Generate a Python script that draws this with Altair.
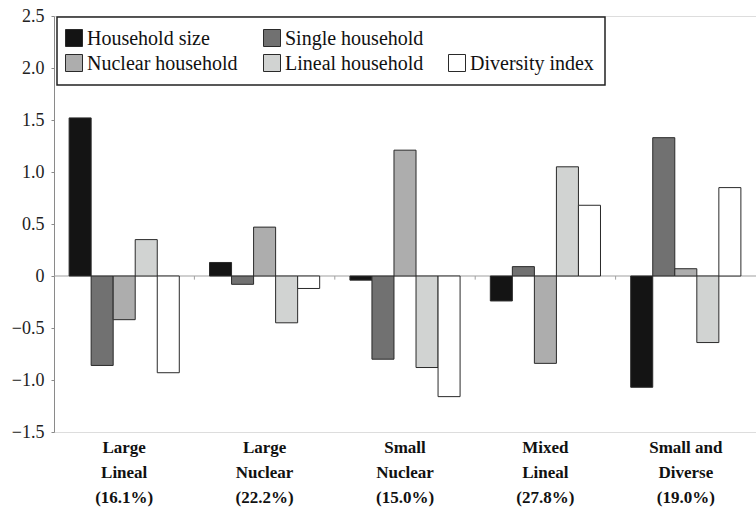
import altair as alt
import pandas as pd

categories = ["Large\nLineal\n(16.1%)", "Large\nNuclear\n(22.2%)", "Small\nNuclear\n(15.0%)",
              "Mixed\nLineal\n(27.8%)", "Small and\nDiverse\n(19.0%)"]
series = ["Household size", "Single household", "Nuclear household", "Lineal household", "Diversity index"]
household_size = [1.52, 0.13, -0.04, -0.24, -1.07]
single_household = [-0.86, -0.08, -0.80, 0.09, 1.33]
nuclear_household = [-0.42, 0.47, 1.21, -0.84, 0.07]
lineal_household = [0.35, -0.45, -0.88, 1.05, -0.64]
diversity_index = [-0.93, -0.12, -1.16, 0.68, 0.85]
y_ticks = [-1.5, -1.0, -0.5, 0, 0.5, 1.0, 1.5, 2.0, 2.5]

colors = ["#141414", "#717171", "#adadad", "#d1d3d2", "#ffffff"]
FONT = "Liberation Serif"

rows = []
for s, vals in zip(series, [household_size, single_household, nuclear_household,
                            lineal_household, diversity_index]):
    for c, v in zip(categories, vals):
        rows.append({"cluster": c, "series": s, "value": v})
df = pd.DataFrame(rows)

W, H = 702, 416

x_enc = alt.X("cluster:N", sort=categories,
              scale=alt.Scale(paddingInner=0, paddingOuter=0),
              axis=alt.Axis(title=None, labelAngle=0, domain=False, ticks=False,
                            labelExpr="split(datum.label, '\\n')",
                            labelFont=FONT, labelFontSize=17, labelFontWeight="bold",
                            labelAlign="center",
                            labelColor="#111", labelPadding=7, labelLineHeight=25,
                            labelBaseline="top"))
y_scale = alt.Scale(domain=[-1.5, 2.5], nice=False, zero=False)

bars = alt.Chart(df).mark_bar(stroke="#2a2a2a", strokeWidth=1).encode(
    x=x_enc,
    xOffset=alt.XOffset("series:N", sort=series,
                        scale=alt.Scale(paddingInner=0, paddingOuter=0.686)),
    y=alt.Y("value:Q", scale=y_scale,
            axis=alt.Axis(title=None, values=y_ticks, grid=False,
                          labelExpr="datum.value == 0 ? '0' : replace(format(datum.value, '.1f'), '-', '\u2212')",
                          labelFont=FONT, labelFontSize=18, labelColor="#222",
                          domainColor="#8a8a8a", tickColor="#8a8a8a", tickSize=3,
                          labelPadding=7)),
    color=alt.Color("series:N", sort=series,
                    scale=alt.Scale(domain=series, range=colors), legend=None),
)

zero_line = alt.Chart(pd.DataFrame({"v": [0]})).mark_rule(color="#a0a0a0", strokeWidth=1.2).encode(
    y=alt.Y("v:Q", scale=y_scale)
)

boundary = pd.DataFrame({"cluster": categories[1:]})
zero_ticks = alt.Chart(boundary).mark_rule(color="#a0a0a0", strokeWidth=1).encode(
    x=alt.X("cluster:N", sort=categories, bandPosition=0),
    y=alt.datum(0),
    y2=alt.datum(-0.035),
)

# legend (manual, Excel-like layout)
legend_box = alt.Chart(pd.DataFrame({"a": [0]})).mark_rect(
    fill="white", stroke="#222", strokeWidth=1.5).encode(
    x=alt.value(3), x2=alt.value(551), y=alt.value(1), y2=alt.value(69))

leg_pos = [(20, 22), (218, 22), (20, 47), (218, 47), (403, 47)]
legend_layers = [legend_box]
for (lx, ly), s, col in zip(leg_pos, series, colors):
    legend_layers.append(
        alt.Chart(pd.DataFrame({"a": [0]})).mark_rect(fill=col, stroke="#2a2a2a", strokeWidth=1).encode(
            x=alt.value(lx - 8.5), x2=alt.value(lx + 8.5), y=alt.value(ly - 8.5), y2=alt.value(ly + 8.5)))
    legend_layers.append(
        alt.Chart(pd.DataFrame({"a": [0]})).mark_text(
            text=s, font=FONT, fontSize=20, color="#111", align="left", baseline="middle").encode(
            x=alt.value(lx + 13), y=alt.value(ly + 1)))

chart = alt.layer(zero_line, zero_ticks, bars, *legend_layers).properties(
    width=W, height=H,
    padding={"left": 54, "top": 16, "right": 0, "bottom": 75},
    autosize="none",
    background="white",
).configure_view(stroke=None).configure(font=FONT)

chart.save("out.html", embed_options={"renderer": "svg", "actions": False})
